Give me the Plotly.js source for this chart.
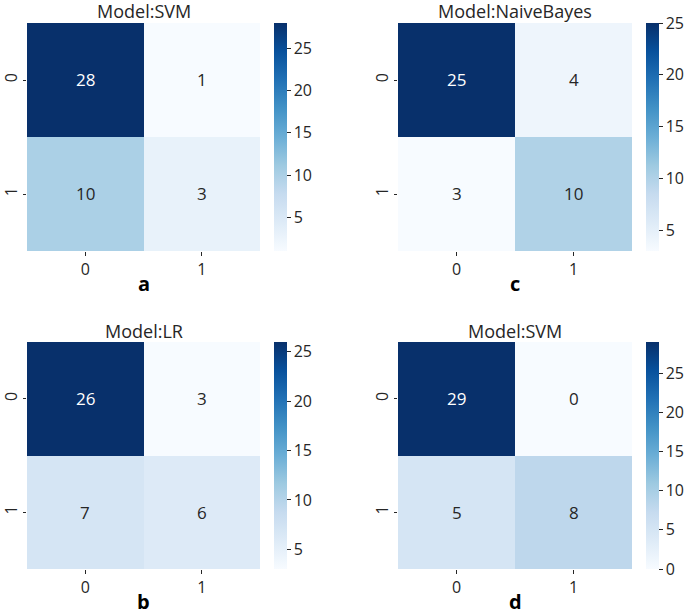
<!DOCTYPE html>
<html><head><meta charset="utf-8">
<script src="https://cdn.plot.ly/plotly-3.0.1.min.js"></script>
<style>html,body{margin:0;padding:0;background:#fff}#chart{width:685px;height:615px}</style>
</head><body><div id="chart"></div>
<script>
const classLabels = [0, 1];
const panelTitles = ["Model:SVM", "Model:NaiveBayes", "Model:LR", "Model:SVM"];
const panelLetters = ["a", "c", "b", "d"];
const matrixA = [[28, 1], [10, 3]];
const matrixC = [[25, 4], [3, 10]];
const matrixB = [[26, 3], [7, 6]];
const matrixD = [[29, 0], [5, 8]];
const matrices = [matrixA, matrixC, matrixB, matrixD];

const blues = [
  [0.0, '#f7fbff'], [0.125, '#deebf7'], [0.25, '#c6dbef'], [0.375, '#9ecae1'],
  [0.5, '#6baed6'], [0.625, '#4292c6'], [0.75, '#2171b5'], [0.875, '#08519c'], [1.0, '#08306b']
];

const W = 685, H = 615;
// pixel boxes for each panel: [x0,x1,y0,y1] (top-down pixels)
const boxes = [[27, 260, 23, 251], [398, 632, 23, 251], [27, 260, 342, 569], [398, 632, 342, 569]];
const font = "'Open Sans', 'Noto Sans', sans-serif";
const dark = '#262626';

const data = [];
const layout = {
  width: W, height: H, margin: {l: 0, r: 0, t: 0, b: 0},
  paper_bgcolor: '#fff', plot_bgcolor: '#fff', showlegend: false,
  font: {family: font, color: dark, size: 16},
  annotations: []
};

matrices.forEach((m, i) => {
  const k = i + 1;
  const xa = 'x' + (k === 1 ? '' : k), ya = 'y' + (k === 1 ? '' : k);
  const [x0, x1, y0, y1] = boxes[i];
  const flat = m.flat();
  const zmin = Math.min(...flat), zmax = Math.max(...flat);
  data.push({
    type: 'heatmap', x: classLabels, y: classLabels, z: m,
    xaxis: xa, yaxis: ya, colorscale: blues, zmin: zmin, zmax: zmax,
    hoverinfo: 'skip',
    colorbar: {
      x: (x1 + 14) / W, xanchor: 'left', xref: 'paper',
      y: 1 - (y0 + y1) / 2 / H, yanchor: 'middle',
      len: (y1 - y0) / H, lenmode: 'fraction', thickness: 13, thicknessmode: 'pixels',
      outlinewidth: 0, ticks: 'outside', ticklen: 4, tickwidth: 1, tickcolor: dark,
      dtick: 5, tick0: 0, tickfont: {size: 16, color: dark, family: font}, xpad: 0, ypad: 0
    }
  });
  const axKey = 'xaxis' + (k === 1 ? '' : k), ayKey = 'yaxis' + (k === 1 ? '' : k);
  layout[axKey] = {
    domain: [x0 / W, x1 / W], anchor: ya, range: [-0.5, 1.5], tickvals: classLabels,
    ticks: 'outside', ticklen: 4, tickcolor: dark, showgrid: false, zeroline: false,
    showline: false, tickfont: {size: 16, color: dark}, fixedrange: true
  };
  layout[ayKey] = {
    domain: [1 - y1 / H, 1 - y0 / H], anchor: xa, range: [1.5, -0.5], tickvals: classLabels,
    ticks: 'outside', ticklen: 3, tickcolor: dark, showgrid: false, zeroline: false,
    showline: false, tickangle: -90, tickfont: {size: 16, color: dark}, fixedrange: true,
    ticklabelstandoff: 0
  };
  // cell values
  m.forEach((row, r) => row.forEach((v, c) => {
    const norm = (v - zmin) / (zmax - zmin);
    layout.annotations.push({
      xref: xa, yref: ya, x: classLabels[c], y: classLabels[r], text: String(v),
      showarrow: false, font: {size: 17, color: norm > 0.6 ? '#ffffff' : dark}
    });
  }));
  // title
  layout.annotations.push({
    xref: 'paper', yref: 'paper', x: (x0 + x1) / 2 / W, y: 1 - (y0 - 11.5) / H,
    yanchor: 'middle', xanchor: 'center', text: panelTitles[i], showarrow: false,
    borderpad: 0, font: {size: 18, color: dark}
  });
  // letter
  layout.annotations.push({
    xref: 'paper', yref: 'paper', x: (x0 + x1) / 2 / W, y: 1 - (y1 + 48) / H,
    yanchor: 'bottom', xanchor: 'center', text: '<b>' + panelLetters[i] + '</b>', showarrow: false,
    font: {size: 20, color: '#000'}
  });
});

Plotly.newPlot('chart', data, layout, {displayModeBar: false, staticPlot: true});
</script></body></html>
